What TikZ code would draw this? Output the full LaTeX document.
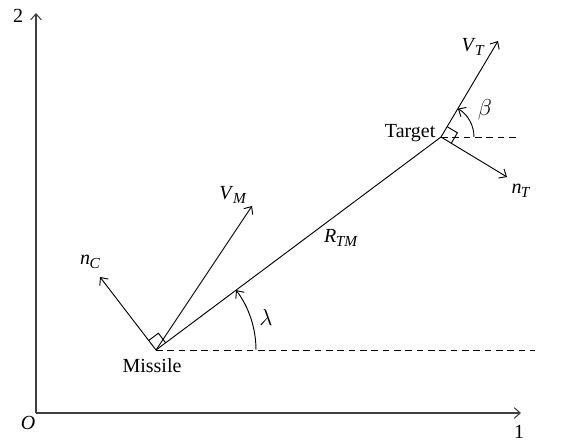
\documentclass[tikz,border=0pt]{standalone}
\usepackage{fontspec}
\setmainfont{Liberation Serif}
\usetikzlibrary{arrows.meta,calc}
\newcommand\vsub[2]{\textit{#1}\kern-0.03em\raisebox{-0.45ex}{\fontsize{11.5}{12}\selectfont\textit{#2}}}
\begin{document}
\begin{tikzpicture}[x=0.75pt,y=0.75pt,
  ln/.style={line width=0.7pt},
  vec/.style={ln,-{Straight Barb[length=4.5pt,width=8pt]}},
  axis/.style={line width=0.8pt,draw=black!75,-{Straight Barb[length=4.5pt,width=8pt]}},
  dash line/.style={ln,dash pattern=on 5pt off 3.5pt},
  lbl/.style={font=\fontsize{15}{17}\selectfont,inner sep=1pt},
  glbl/.style={font=\fontsize{19}{21}\selectfont,inner sep=1pt}]
\useasboundingbox (0,0) rectangle (572,444);
\coordinate (O) at (36,31);
\coordinate (xend) at (521,31);
\coordinate (yend) at (36,431);
\coordinate (M) at (156,94);
\coordinate (T) at (441,307);
\coordinate (VM) at (252,238);
\coordinate (nC) at (100,167);
\coordinate (VT) at (498,403);
\coordinate (nT) at (507,267);
\coordinate (Md) at (535,94);
\coordinate (Td) at (518,307);
% axes
\draw[axis] (O) -- (xend);
\draw[axis] (O) -- (yend);
\node[lbl] (lO) at (28,21) {\textit{O}};
\node[lbl] (l1) at (519,12) {1};
\node[lbl] (l2) at (18,428) {2};
% dashed references
\draw[dash line] (M) -- (Md);
\draw[dash line] (T) -- (Td);
% line of sight
\draw[ln] (M) -- (T);
% vectors
\draw[vec] (M) -- (VM);
\draw[vec] (M) -- (nC);
\draw[vec] (T) -- (VT);
\draw[vec] (T) -- (nT);
% right angle marks
\draw[ln] ($(M)+(36.8:12)$) -- ($(M)+(36.8:12)+(126.8:12)$) -- ($(M)+(126.8:12)$);
\draw[ln] ($(T)+(59.3:12)$) -- ($(T)+(59.3:12)+(-30.7:12)$) -- ($(T)+(-30.7:12)$);
% angle arcs
\draw[vec] ($(M)+(0:100)$) arc[start angle=0,end angle=36.8,radius=100];
\draw[vec] ($(T)+(0:33)$) arc[start angle=0,end angle=59.3,radius=33];
% labels
\node[lbl] (lM) at (152,78) {Missile};
\node[lbl,anchor=east] (lT) at (437,311) {Target};
\node[lbl] (lVM) at (233,249) {\vsub{V}{M}};
\node[lbl] (lnC) at (90,182) {\vsub{n}{C}};
\node[lbl] (lVT) at (473,397) {\vsub{V}{T}};
\node[glbl] (lb) at (485,334) {$\beta$};
\node[lbl] (lnT) at (521,253) {\vsub{n}{T}};
\node[lbl] (lR) at (341,206) {\vsub{R}{TM}};
\node[glbl] (ll) at (266,127) {$\lambda$};
\end{tikzpicture}
\end{document}
